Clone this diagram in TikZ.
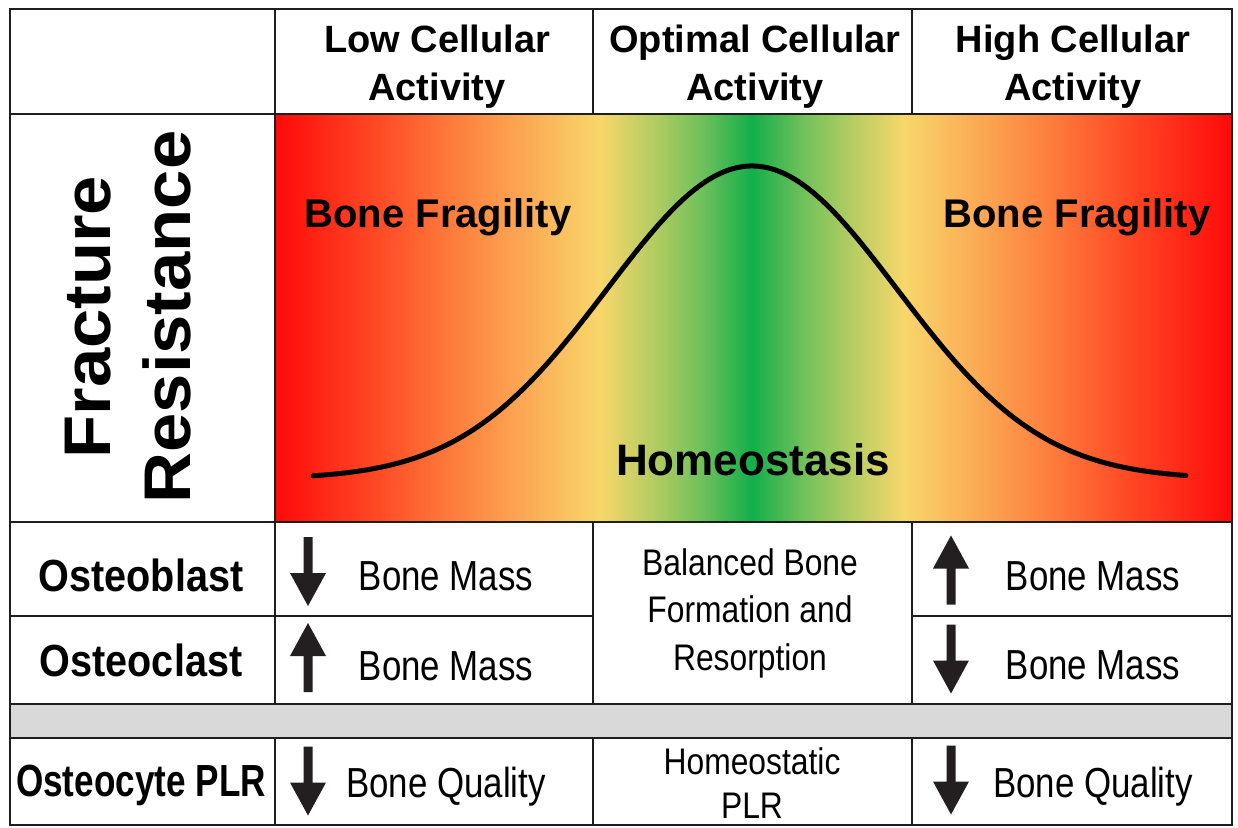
\documentclass[tikz,border=0pt]{standalone}
\usepackage{fontspec}
\setmainfont{Liberation Sans}
\newfontfamily\wideboldfont[FakeStretch=1.07]{Liberation Sans}
\newfontfamily\condboldfont[FakeStretch=0.88]{Liberation Sans}
\newfontfamily\xcondboldfont[FakeStretch=0.78]{Liberation Sans}
\newfontfamily\condfont[FakeStretch=0.83]{Liberation Sans}
\newfontfamily\midfont[FakeStretch=0.86]{Liberation Sans}
\definecolor{cRed}{HTML}{FF0A0A}
\definecolor{cOR1}{HTML}{FF4B26}
\definecolor{cOR2}{HTML}{FD7B3B}
\definecolor{cOR3}{HTML}{FCA652}
\definecolor{cYel}{HTML}{F8D76B}
\definecolor{cLG1}{HTML}{B8CD62}
\definecolor{cLG2}{HTML}{72C15B}
\definecolor{cGrn}{HTML}{12AF4B}
\definecolor{lineC}{HTML}{1E1E1E}
\definecolor{barC}{HTML}{D9D9D9}
\definecolor{arrC}{HTML}{231F20}
\pgfdeclarehorizontalshading{bonegrad}{100bp}{color(0bp)=(cRed); color(25bp)=(cRed); color(30.49bp)=(cOR1); color(34.14bp)=(cOR2); color(37.8bp)=(cOR3); color(41.98bp)=(cYel); color(44.59bp)=(cLG1); color(47.2bp)=(cLG2); color(49.92bp)=(cGrn); color(52.64bp)=(cLG2); color(55.25bp)=(cLG1); color(57.86bp)=(cYel); color(62.04bp)=(cOR3); color(65.7bp)=(cOR2); color(69.36bp)=(cOR1); color(75bp)=(cRed); color(100bp)=(cRed)}
\begin{document}
\begin{tikzpicture}[x=1pt,y=-1pt,
  grid/.style={line width=2.8pt, draw=lineC, line cap=rect},
  hdr/.style={font=\bfseries\fontsize{38}{48}\selectfont, align=center, anchor=base, inner sep=0pt},
  fragtext/.style={font=\bfseries\fontsize{40}{48}\selectfont, anchor=base, inner sep=0pt},
  homtext/.style={font=\bfseries\fontsize{44}{52}\selectfont, anchor=base, inner sep=0pt},
  rowlabel/.style={font=\condboldfont\bfseries\fontsize{45}{52}\selectfont, anchor=base, inner sep=0pt},
  rowlabelx/.style={font=\xcondboldfont\bfseries\fontsize{45}{52}\selectfont, anchor=base, inner sep=0pt},
  bodytext/.style={font=\condfont\fontsize{42}{48}\selectfont, anchor=base, inner sep=0pt},
  midtext/.style={font=\midfont\fontsize{37}{47.5}\selectfont, align=center, anchor=base, inner sep=0pt},
  pics/downarr/.style={code={\fill[arrC] (-4.5,-34.5) -- (4.5,-34.5) -- (4.5,1.5) -- (18,1.5) -- (0,34.5) -- (-18,1.5) -- (-4.5,1.5) -- cycle;}},
  pics/uparr/.style={code={\fill[arrC] (-4.5,34.5) -- (4.5,34.5) -- (4.5,-1.5) -- (18,-1.5) -- (0,-34.5) -- (-18,-1.5) -- (-4.5,-1.5) -- cycle;}}
]
\useasboundingbox[fill=white] (0,0) rectangle (1238,827);
% gradient panel
\fill[shading=bonegrad] (275,114) rectangle (1232,522);
% grey separator bar
\fill[barC] (10,704) rectangle (1232,738);
% bell curve
\draw[line width=5pt, line cap=round, black] plot[domain=313:1186, samples=120, smooth] (\x,{479-313*exp(-0.5*((\x-752)/145)^2)});
% grid lines
\draw[grid] (10,9) rectangle (1232,825);
\draw[grid] (10,114) -- (1232,114);
\draw[grid] (10,522) -- (1232,522);
\draw[grid] (10,616) -- (593,616) (912,616) -- (1232,616);
\draw[grid] (10,704) -- (1232,704);
\draw[grid] (10,738) -- (1232,738);
\draw[grid] (275,9) -- (275,704) (275,738) -- (275,825);
\draw[grid] (593,9) -- (593,114) (593,522) -- (593,704) (593,738) -- (593,825);
\draw[grid] (912,9) -- (912,114) (912,522) -- (912,704) (912,738) -- (912,825);
% headers (anchor = baseline of last line)
\node[hdr] (hlow) at (437,100) {Low Cellular\\Activity};
\node[hdr] (hopt) at (755,100) {Optimal Cellular\\Activity};
\node[hdr] (hhigh) at (1073,100) {High Cellular\\Activity};
% side label
\node[font=\wideboldfont\bfseries\fontsize{66}{80}\selectfont, align=center, rotate=90, inner sep=0pt] (fres) at (128,317) {Fracture\\Resistance};
% panel texts
\node[fragtext] (fragL) at (438,227) {Bone Fragility};
\node[fragtext] (fragR) at (1077,227) {Bone Fragility};
\node[homtext] (homeo) at (753,475) {Homeostasis};
% row labels
\node[rowlabel] (oblast) at (141,591) {Osteoblast};
\node[rowlabel] (oclast) at (141,676) {Osteoclast};
\node[rowlabelx] (ocyte) at (141,796) {Osteocyte PLR};
% body texts
\node[bodytext] (bmL1) at (446,590) {Bone Mass};
\node[bodytext] (bmL2) at (446,680) {Bone Mass};
\node[bodytext] (bqL) at (446,797) {Bone Quality};
\node[bodytext] (bmR1) at (1093,590) {Bone Mass};
\node[bodytext] (bmR2) at (1093,679) {Bone Mass};
\node[bodytext] (bqR) at (1093,797) {Bone Quality};
\node[midtext] (bal) at (750,670) {Balanced Bone\\Formation and\\Resorption};
\node[midtext, font=\midfont\fontsize{37}{44}\selectfont] (hplr) at (752,818) {Homeostatic\\PLR};
% arrows
\pic at (308,571.5) {downarr};
\pic at (308,657.5) {uparr};
\pic at (308,781) {downarr};
\pic at (951,570) {uparr};
\pic at (951,659) {downarr};
\pic at (951,780) {downarr};
\end{tikzpicture}
\end{document}
